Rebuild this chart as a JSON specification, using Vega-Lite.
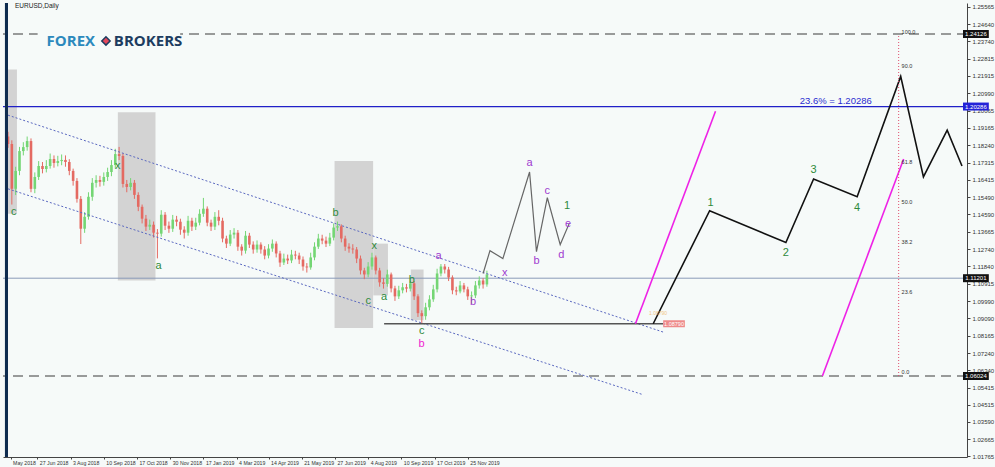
{
"$schema":"https://vega.github.io/schema/vega-lite/v6.json",
"autosize":{"type":"none"},
"padding":{"left":3,"top":3,"right":28,"bottom":10},
"width":964,"height":454,
"background":"#f6faf9",
"config":{"view":{"stroke":null},"text":{"font":"Liberation Sans"},
 "axisX":{"labelAlign":"left","labelBaseline":"top","labelOffset":2,"labelFlush":false,"labelOverlap":false,"labelBound":false,"labelFont":"Liberation Sans","labelFontSize":5.2,"labelColor":"#333","labelPadding":1,"tickSize":2,"tickColor":"#444","domainColor":"#444","domainWidth":1,"grid":false},
 "axisY":{"labelFlush":false,"labelOverlap":false,"labelBound":false,"labelFont":"Liberation Sans","labelFontSize":6,"labelColor":"#333","labelPadding":2,"tickSize":3,"tickColor":"#444","domainColor":"#444","domainWidth":1,"grid":false}
},
"resolve":{"scale":{"color":"independent"}},
"datasets":{
"candles":[
{"t":0,"o":1.1870,"h":1.1895,"l":1.1810,"c":1.1830},
{"t":3,"o":1.1830,"h":1.1850,"l":1.1510,"c":1.1593},
{"t":6,"o":1.1593,"h":1.1710,"l":1.1560,"c":1.1688},
{"t":9,"o":1.1688,"h":1.1815,"l":1.1665,"c":1.1793},
{"t":12,"o":1.1793,"h":1.1840,"l":1.1770,"c":1.1814},
{"t":15,"o":1.1814,"h":1.1870,"l":1.1795,"c":1.1846},
{"t":18,"o":1.1846,"h":1.1860,"l":1.1575,"c":1.1593},
{"t":21,"o":1.1593,"h":1.1680,"l":1.1570,"c":1.1656},
{"t":24,"o":1.1656,"h":1.1740,"l":1.1640,"c":1.1714},
{"t":27,"o":1.1714,"h":1.1735,"l":1.1675,"c":1.1698},
{"t":30,"o":1.1698,"h":1.1745,"l":1.1680,"c":1.1714},
{"t":33,"o":1.1714,"h":1.1780,"l":1.1700,"c":1.1751},
{"t":36,"o":1.1751,"h":1.1770,"l":1.1705,"c":1.1730},
{"t":39,"o":1.1730,"h":1.1768,"l":1.1712,"c":1.1740},
{"t":42,"o":1.1740,"h":1.1775,"l":1.1718,"c":1.1746},
{"t":45,"o":1.1746,"h":1.1770,"l":1.1710,"c":1.1735},
{"t":48,"o":1.1735,"h":1.1750,"l":1.1665,"c":1.1688},
{"t":51,"o":1.1688,"h":1.1700,"l":1.1610,"c":1.1635},
{"t":54,"o":1.1635,"h":1.1650,"l":1.1520,"c":1.1540},
{"t":57,"o":1.1540,"h":1.1555,"l":1.1301,"c":1.1382},
{"t":60,"o":1.1382,"h":1.1470,"l":1.1360,"c":1.1445},
{"t":63,"o":1.1445,"h":1.1575,"l":1.1430,"c":1.1551},
{"t":66,"o":1.1551,"h":1.1650,"l":1.1530,"c":1.1625},
{"t":69,"o":1.1625,"h":1.1665,"l":1.1600,"c":1.1640},
{"t":72,"o":1.1640,"h":1.1662,"l":1.1605,"c":1.1630},
{"t":75,"o":1.1630,"h":1.1680,"l":1.1610,"c":1.1656},
{"t":78,"o":1.1656,"h":1.1705,"l":1.1635,"c":1.1682},
{"t":81,"o":1.1682,"h":1.1745,"l":1.1660,"c":1.1719},
{"t":84,"o":1.1719,"h":1.1805,"l":1.1700,"c":1.1777},
{"t":87,"o":1.1777,"h":1.1815,"l":1.1745,"c":1.1767},
{"t":90,"o":1.1767,"h":1.1780,"l":1.1600,"c":1.1619},
{"t":93,"o":1.1619,"h":1.1640,"l":1.1575,"c":1.1603},
{"t":96,"o":1.1603,"h":1.1650,"l":1.1585,"c":1.1625},
{"t":99,"o":1.1625,"h":1.1640,"l":1.1540,"c":1.1561},
{"t":102,"o":1.1561,"h":1.1575,"l":1.1475,"c":1.1498},
{"t":105,"o":1.1498,"h":1.1510,"l":1.1410,"c":1.1435},
{"t":108,"o":1.1435,"h":1.1455,"l":1.1370,"c":1.1393},
{"t":111,"o":1.1393,"h":1.1430,"l":1.1375,"c":1.1403},
{"t":114,"o":1.1403,"h":1.1420,"l":1.1335,"c":1.1361},
{"t":117,"o":1.1361,"h":1.1380,"l":1.1225,"c":1.1356},
{"t":120,"o":1.1356,"h":1.1480,"l":1.1340,"c":1.1456},
{"t":123,"o":1.1456,"h":1.1470,"l":1.1375,"c":1.1398},
{"t":126,"o":1.1398,"h":1.1420,"l":1.1360,"c":1.1382},
{"t":129,"o":1.1382,"h":1.1455,"l":1.1365,"c":1.1430},
{"t":132,"o":1.1430,"h":1.1450,"l":1.1395,"c":1.1419},
{"t":135,"o":1.1419,"h":1.1435,"l":1.1350,"c":1.1377},
{"t":138,"o":1.1377,"h":1.1395,"l":1.1330,"c":1.1361},
{"t":141,"o":1.1361,"h":1.1450,"l":1.1345,"c":1.1424},
{"t":144,"o":1.1424,"h":1.1440,"l":1.1370,"c":1.1393},
{"t":147,"o":1.1393,"h":1.1440,"l":1.1375,"c":1.1414},
{"t":150,"o":1.1414,"h":1.1485,"l":1.1400,"c":1.1461},
{"t":153,"o":1.1461,"h":1.1545,"l":1.1445,"c":1.1488},
{"t":156,"o":1.1488,"h":1.1500,"l":1.1395,"c":1.1414},
{"t":159,"o":1.1414,"h":1.1430,"l":1.1370,"c":1.1393},
{"t":162,"o":1.1393,"h":1.1470,"l":1.1375,"c":1.1445},
{"t":165,"o":1.1445,"h":1.1480,"l":1.1400,"c":1.1424},
{"t":168,"o":1.1424,"h":1.1440,"l":1.1310,"c":1.1330},
{"t":171,"o":1.1330,"h":1.1345,"l":1.1280,"c":1.1303},
{"t":174,"o":1.1303,"h":1.1375,"l":1.1290,"c":1.1351},
{"t":177,"o":1.1351,"h":1.1385,"l":1.1330,"c":1.1361},
{"t":180,"o":1.1361,"h":1.1375,"l":1.1265,"c":1.1287},
{"t":183,"o":1.1287,"h":1.1300,"l":1.1240,"c":1.1266},
{"t":186,"o":1.1266,"h":1.1370,"l":1.1250,"c":1.1345},
{"t":189,"o":1.1345,"h":1.1360,"l":1.1280,"c":1.1298},
{"t":192,"o":1.1298,"h":1.1315,"l":1.1250,"c":1.1272},
{"t":195,"o":1.1272,"h":1.1320,"l":1.1255,"c":1.1298},
{"t":198,"o":1.1298,"h":1.1310,"l":1.1250,"c":1.1272},
{"t":201,"o":1.1272,"h":1.1290,"l":1.1220,"c":1.1240},
{"t":204,"o":1.1240,"h":1.1300,"l":1.1225,"c":1.1277},
{"t":207,"o":1.1277,"h":1.1325,"l":1.1260,"c":1.1303},
{"t":210,"o":1.1303,"h":1.1315,"l":1.1230,"c":1.1251},
{"t":213,"o":1.1251,"h":1.1265,"l":1.1180,"c":1.1203},
{"t":216,"o":1.1203,"h":1.1250,"l":1.1190,"c":1.1224},
{"t":219,"o":1.1224,"h":1.1245,"l":1.1195,"c":1.1214},
{"t":222,"o":1.1214,"h":1.1270,"l":1.1200,"c":1.1245},
{"t":225,"o":1.1245,"h":1.1265,"l":1.1220,"c":1.1240},
{"t":228,"o":1.1240,"h":1.1255,"l":1.1195,"c":1.1219},
{"t":231,"o":1.1219,"h":1.1235,"l":1.1160,"c":1.1182},
{"t":234,"o":1.1182,"h":1.1200,"l":1.1150,"c":1.1177},
{"t":237,"o":1.1177,"h":1.1255,"l":1.1165,"c":1.1230},
{"t":240,"o":1.1230,"h":1.1310,"l":1.1215,"c":1.1287},
{"t":243,"o":1.1287,"h":1.1355,"l":1.1275,"c":1.1330},
{"t":246,"o":1.1330,"h":1.1350,"l":1.1300,"c":1.1319},
{"t":249,"o":1.1319,"h":1.1340,"l":1.1285,"c":1.1303},
{"t":252,"o":1.1303,"h":1.1360,"l":1.1290,"c":1.1335},
{"t":255,"o":1.1335,"h":1.1410,"l":1.1320,"c":1.1388},
{"t":258,"o":1.1388,"h":1.1420,"l":1.1370,"c":1.1395},
{"t":261,"o":1.1395,"h":1.1405,"l":1.1310,"c":1.1330},
{"t":264,"o":1.1330,"h":1.1345,"l":1.1265,"c":1.1287},
{"t":267,"o":1.1287,"h":1.1305,"l":1.1255,"c":1.1277},
{"t":270,"o":1.1277,"h":1.1300,"l":1.1250,"c":1.1272},
{"t":273,"o":1.1272,"h":1.1285,"l":1.1200,"c":1.1224},
{"t":276,"o":1.1224,"h":1.1240,"l":1.1140,"c":1.1161},
{"t":279,"o":1.1161,"h":1.1175,"l":1.1115,"c":1.1140},
{"t":282,"o":1.1140,"h":1.1205,"l":1.1125,"c":1.1182},
{"t":285,"o":1.1182,"h":1.1255,"l":1.1165,"c":1.1230},
{"t":288,"o":1.1230,"h":1.1240,"l":1.1140,"c":1.1161},
{"t":291,"o":1.1161,"h":1.1175,"l":1.1075,"c":1.1098},
{"t":294,"o":1.1098,"h":1.1120,"l":1.1065,"c":1.1090},
{"t":297,"o":1.1090,"h":1.1165,"l":1.1075,"c":1.1140},
{"t":300,"o":1.1140,"h":1.1150,"l":1.1045,"c":1.1066},
{"t":303,"o":1.1066,"h":1.1080,"l":1.1000,"c":1.1024},
{"t":306,"o":1.1024,"h":1.1080,"l":1.1010,"c":1.1056},
{"t":309,"o":1.1056,"h":1.1095,"l":1.1040,"c":1.1072},
{"t":312,"o":1.1072,"h":1.1090,"l":1.1045,"c":1.1065},
{"t":315,"o":1.1065,"h":1.1120,"l":1.1050,"c":1.1093},
{"t":318,"o":1.1093,"h":1.1105,"l":1.1005,"c":1.1024},
{"t":321,"o":1.1024,"h":1.1035,"l":1.0915,"c":1.0935},
{"t":324,"o":1.0935,"h":1.0950,"l":1.0879,"c":1.0919},
{"t":327,"o":1.0919,"h":1.0990,"l":1.0900,"c":1.0966},
{"t":330,"o":1.0966,"h":1.1030,"l":1.0950,"c":1.1008},
{"t":333,"o":1.1008,"h":1.1085,"l":1.0995,"c":1.1061},
{"t":336,"o":1.1061,"h":1.1170,"l":1.1045,"c":1.1145},
{"t":339,"o":1.1145,"h":1.1195,"l":1.1130,"c":1.1182},
{"t":342,"o":1.1182,"h":1.1195,"l":1.1145,"c":1.1166},
{"t":345,"o":1.1166,"h":1.1180,"l":1.1105,"c":1.1124},
{"t":348,"o":1.1124,"h":1.1135,"l":1.1035,"c":1.1056},
{"t":351,"o":1.1056,"h":1.1075,"l":1.1030,"c":1.1050},
{"t":354,"o":1.1050,"h":1.1105,"l":1.1040,"c":1.1082},
{"t":357,"o":1.1082,"h":1.1095,"l":1.1045,"c":1.1061},
{"t":360,"o":1.1061,"h":1.1075,"l":1.1005,"c":1.1024},
{"t":363,"o":1.1024,"h":1.1050,"l":1.0985,"c":1.1029},
{"t":366,"o":1.1029,"h":1.1105,"l":1.1015,"c":1.1082},
{"t":369,"o":1.1082,"h":1.1130,"l":1.1065,"c":1.1108},
{"t":372,"o":1.1108,"h":1.1120,"l":1.1065,"c":1.1087},
{"t":375,"o":1.1087,"h":1.1160,"l":1.1075,"c":1.1140}
],
"boxes":[
{"t1":0,"t2":7,"p1":1.1461,"p2":1.2225},
{"t1":86,"t2":115.5,"p1":1.1108,"p2":1.1998},
{"t1":255.7,"t2":285.9,"p1":1.0856,"p2":1.1740},
{"t1":286,"t2":297.5,"p1":1.1029,"p2":1.1303},
{"t1":315.4,"t2":325.4,"p1":1.0898,"p2":1.1166}
],
"hlines":[
{"p":1.24126,"kind":"dash"},
{"p":1.06024,"kind":"dash"},
{"p":1.20286,"kind":"blue"},
{"p":1.11201,"kind":"thin"}
],
"channel":[
{"id":"u","k":0,"t":0,"p":1.1983},
{"id":"u","k":1,"t":513,"p":1.0835},
{"id":"l","k":0,"t":0,"p":1.1593},
{"id":"l","k":1,"t":497.5,"p":1.0503}
],
"seg":[{"t1":294.5,"t2":513,"p":1.0879}],
"proj":[
{"k":0,"t":372,"p":1.1145},
{"k":1,"t":377.4,"p":1.1266},
{"k":2,"t":387.5,"p":1.1224},
{"k":3,"t":408.4,"p":1.1682},
{"k":4,"t":413.8,"p":1.1261},
{"k":5,"t":422.3,"p":1.1546},
{"k":6,"t":432.4,"p":1.1298},
{"k":7,"t":439.4,"p":1.1409}
],
"magenta":[
{"id":"a","k":0,"t":491.3,"p":1.0879},
{"id":"a","k":1,"t":554,"p":1.2004},
{"id":"b","k":0,"t":637.7,"p":1.06024},
{"id":"b","k":1,"t":701.3,"p":1.1751}
],
"black":[
{"k":0,"t":505.2,"p":1.0879},
{"k":1,"t":549.4,"p":1.1477},
{"k":2,"t":609.1,"p":1.1309},
{"k":3,"t":630.8,"p":1.1645},
{"k":4,"t":664.9,"p":1.1551},
{"k":5,"t":699,"p":1.2188},
{"k":6,"t":716.8,"p":1.1656},
{"k":7,"t":735.4,"p":1.1904},
{"k":8,"t":747,"p":1.1714}
],
"fib":[{"t":697.4,"p1":1.06024,"p2":1.24126}],
"waves":[
{"t":4.6,"p":1.1472,"txt":"c","g":"g"},
{"t":86,"p":1.1714,"txt":"x","g":"g"},
{"t":117.8,"p":1.1187,"txt":"a","g":"g"},
{"t":256.5,"p":1.1467,"txt":"b","g":"g"},
{"t":286.7,"p":1.1293,"txt":"x","g":"g"},
{"t":282.1,"p":1.0998,"txt":"c","g":"g"},
{"t":294.5,"p":1.1019,"txt":"a","g":"g"},
{"t":316.2,"p":1.1108,"txt":"b","g":"g"},
{"t":323.9,"p":1.0840,"txt":"c","g":"g"},
{"t":437.8,"p":1.1500,"txt":"1","g":"g"},
{"t":550.2,"p":1.1519,"txt":"1","g":"g"},
{"t":609.1,"p":1.1256,"txt":"2","g":"g"},
{"t":630.8,"p":1.1693,"txt":"3","g":"g"},
{"t":664.9,"p":1.1493,"txt":"4","g":"g"},
{"t":337.1,"p":1.1235,"txt":"a","g":"p"},
{"t":364.2,"p":1.0993,"txt":"b","g":"p"},
{"t":389,"p":1.1150,"txt":"x","g":"p"},
{"t":408.4,"p":1.1730,"txt":"a","g":"p"},
{"t":413.8,"p":1.1209,"txt":"b","g":"p"},
{"t":422.3,"p":1.1582,"txt":"c","g":"p"},
{"t":433.2,"p":1.1245,"txt":"d","g":"p"},
{"t":438.6,"p":1.1405,"txt":"e","g":"p"},
{"t":323.9,"p":1.0771,"txt":"b","g":"m"}
],
"fibl":[
{"t":699.7,"p":1.24232,"txt":"100.0"},
{"t":699.7,"p":1.22432,"txt":"90.0"},
{"t":699.7,"p":1.17351,"txt":"61.8"},
{"t":699.7,"p":1.15234,"txt":"50.0"},
{"t":699.7,"p":1.13117,"txt":"38.2"},
{"t":699.7,"p":1.10470,"txt":"23.6"},
{"t":699.7,"p":1.06236,"txt":"0.0"}
],
"notes":[
{"t":619.9,"p":1.20286,"txt":"23.6% = 1.20286"}
],
"title":[{"t":5.5,"p":1.2561,"txt":"EURUSD,Daily"}],
"logo":[
{"t":30.2,"p":1.2378,"txt":"FOREX","g":"a"},
{"t":82.9,"p":1.2378,"txt":"BROKERS","g":"b"}
],
"icon":[{"t":76.7,"p":1.2376}],
"ptag":[{"t":521.5,"p":1.0879,"txt":"1.08790"}],
"ghost":[{"t":509,"p":1.0936,"txt":"1.08790"}],
"tags":[
{"p":1.24126,"txt":"1.24126","col":"k"},
{"p":1.20286,"txt":"1.20286","col":"b"},
{"p":1.11201,"txt":"1.11201","col":"k"},
{"p":1.06024,"txt":"1.06024","col":"k"}
]
},
"layer":[
{"data":{"name":"boxes"},
 "mark":{"type":"rect","fill":"#d3d3d3"},
 "encoding":{
  "x":{"field":"t1","type":"quantitative","scale":{"domain":[0,747],"nice":false,"zero":false},"title":null,
   "axis":{"orient":"bottom","values":[2,23,49,75,101,127,153,179,204,230,256,282,308,334,360],"tickCount":40,
    "labelExpr":"['May 2018','27 Jun 2018','3 Aug 2018','10 Sep 2018','17 Oct 2018','30 Nov 2018','17 Jan 2019','4 Mar 2019','14 Apr 2019','21 May 2019','27 Jun 2019','4 Aug 2019','10 Sep 2019','17 Oct 2019','25 Nov 2019'][indexof([2,23,49,75,101,127,153,179,204,230,256,282,308,334,360], datum.value)]",
    "labelAlign":"left","labelFlush":false,"labelOverlap":false,"labelFontSize":5.2}},
  "x2":{"field":"t2"},
  "y":{"field":"p1","type":"quantitative","scale":{"domain":[1.01737,1.25767],"nice":false,"zero":false},"title":null,
   "axis":{"orient":"right","tickCount":40,"values":[1.25565,1.2464,1.2374,1.22815,1.21915,1.2099,1.20065,1.19165,1.1824,1.17315,1.16415,1.1549,1.1459,1.13665,1.1274,1.1184,1.10915,1.0999,1.0909,1.08165,1.0724,1.0634,1.05415,1.04515,1.0359,1.02665,1.01765],
    "format":".5f","labelOverlap":false}},
  "y2":{"field":"p2"}}},
{"data":{"name":"hlines"},"transform":[{"filter":"datum.kind == 'dash'"}],
 "mark":{"type":"rule","stroke":"#3a3a3a","strokeWidth":1,"strokeDash":[10,6]},
 "encoding":{"y":{"field":"p","type":"quantitative","title":null}}},
{"data":{"name":"hlines"},"transform":[{"filter":"datum.kind == 'blue'"}],
 "mark":{"type":"rule","stroke":"#2020c8","strokeWidth":1.3},
 "encoding":{"y":{"field":"p","type":"quantitative","title":null}}},
{"data":{"name":"hlines"},"transform":[{"filter":"datum.kind == 'thin'"}],
 "mark":{"type":"rule","stroke":"#8a9ab8","strokeWidth":1},
 "encoding":{"y":{"field":"p","type":"quantitative","title":null}}},
{"data":{"name":"title"},
 "mark":{"type":"rect","fill":"#f6faf9"},
 "encoding":{"x":{"datum":23.2,"type":"quantitative","title":null},"x2":{"datum":134.8},
  "y":{"datum":1.23173,"type":"quantitative","title":null},"y2":{"datum":1.24549}}},
{"data":{"name":"candles"},
 "mark":{"type":"rule","strokeWidth":1},
 "encoding":{"x":{"field":"t","type":"quantitative","title":null},
  "y":{"field":"l","type":"quantitative","title":null},
  "y2":{"field":"h"},
  "color":{"condition":{"test":"datum.c >= datum.o","value":"#74d674"},"value":"#e46a62"}}},
{"data":{"name":"candles"},
 "mark":{"type":"bar","size":2.6},
 "encoding":{"x":{"field":"t","type":"quantitative","title":null},
  "y":{"field":"o","type":"quantitative","title":null},
  "y2":{"field":"c"},
  "color":{"condition":{"test":"datum.c >= datum.o","value":"#74d674"},"value":"#e46a62"}}},
{"data":{"name":"channel"},
 "mark":{"type":"line","stroke":"#5a68c0","strokeWidth":1,"strokeDash":[2,2]},
 "encoding":{"x":{"field":"t","type":"quantitative","title":null},
  "y":{"field":"p","type":"quantitative","title":null},
  "detail":{"field":"id"},"order":{"field":"k"}}},
{"data":{"name":"seg"},
 "mark":{"type":"rule","stroke":"#555","strokeWidth":1.6},
 "encoding":{"x":{"field":"t1","type":"quantitative","title":null},"x2":{"field":"t2"},
  "y":{"field":"p","type":"quantitative","title":null}}},
{"data":{"name":"proj"},
 "mark":{"type":"line","stroke":"#666","strokeWidth":1.2},
 "encoding":{"x":{"field":"t","type":"quantitative","title":null},
  "y":{"field":"p","type":"quantitative","title":null},
  "order":{"field":"k"}}},
{"data":{"name":"magenta"},
 "mark":{"type":"line","stroke":"#ee22e6","strokeWidth":1.6},
 "encoding":{"x":{"field":"t","type":"quantitative","title":null},
  "y":{"field":"p","type":"quantitative","title":null},
  "detail":{"field":"id"},"order":{"field":"k"}}},
{"data":{"name":"black"},
 "mark":{"type":"line","stroke":"#111","strokeWidth":1.6},
 "encoding":{"x":{"field":"t","type":"quantitative","title":null},
  "y":{"field":"p","type":"quantitative","title":null},
  "order":{"field":"k"}}},
{"data":{"name":"fib"},
 "mark":{"type":"rule","stroke":"#e05070","strokeWidth":1,"strokeDash":[1,2]},
 "encoding":{"x":{"field":"t","type":"quantitative","title":null},
  "y":{"field":"p1","type":"quantitative","title":null},"y2":{"field":"p2"}}},
{"data":{"name":"waves"},
 "mark":{"type":"text","fontSize":11,"align":"center","baseline":"middle"},
 "encoding":{"x":{"field":"t","type":"quantitative","title":null},
  "y":{"field":"p","type":"quantitative","title":null},
  "text":{"field":"txt"},
  "color":{"field":"g","type":"nominal","scale":{"domain":["g","p","m"],"range":["#2f8a3b","#a03ad0","#f01cd0"]},"legend":null}}},
{"data":{"name":"fibl"},
 "mark":{"type":"text","fontSize":5.5,"align":"left","baseline":"middle","color":"#333"},
 "encoding":{"x":{"field":"t","type":"quantitative","title":null},
  "y":{"field":"p","type":"quantitative","title":null},
  "text":{"field":"txt"}}},
{"data":{"name":"notes"},
 "mark":{"type":"text","fontSize":9.5,"align":"left","baseline":"bottom","dy":-1,"color":"#2a2ad0"},
 "encoding":{"x":{"field":"t","type":"quantitative","title":null},
  "y":{"field":"p","type":"quantitative","title":null},
  "text":{"field":"txt"}}},
{"data":{"name":"title"},
 "mark":{"type":"text","fontSize":6.5,"align":"left","baseline":"middle","color":"#222"},
 "encoding":{"x":{"field":"t","type":"quantitative","title":null},
  "y":{"field":"p","type":"quantitative","title":null},
  "text":{"field":"txt"}}},
{"data":{"name":"logo"},
 "mark":{"type":"text","font":"Open Sans","fontWeight":"bold","fontSize":15,"align":"left","baseline":"middle"},
 "encoding":{"x":{"field":"t","type":"quantitative","title":null},
  "y":{"field":"p","type":"quantitative","title":null},
  "text":{"field":"txt"},
  "color":{"field":"g","type":"nominal","scale":{"domain":["a","b"],"range":["#2c89bd","#1d3c60"]},"legend":null}}},
{"data":{"name":"icon"},
 "mark":{"type":"point","shape":"diamond","filled":true,"size":70,"fill":"#e5485c","stroke":"#1d3c60","strokeWidth":1.5,"opacity":1},
 "encoding":{"x":{"field":"t","type":"quantitative","title":null},
  "y":{"field":"p","type":"quantitative","title":null}}},
{"data":{"name":"ghost"},
 "mark":{"type":"text","fontSize":5,"align":"center","baseline":"middle","color":"#f0b050","opacity":0.7},
 "encoding":{"x":{"field":"t","type":"quantitative","title":null},
  "y":{"field":"p","type":"quantitative","title":null},
  "text":{"field":"txt"}}},
{"data":{"name":"ptag"},
 "mark":{"type":"rect","fill":"#ee8a8a","yOffset":-3.5,"y2Offset":3.5},
 "encoding":{"x":{"datum":513,"type":"quantitative","title":null},"x2":{"datum":530},
  "y":{"field":"p","type":"quantitative","title":null},"y2":{"field":"p"}}},
{"data":{"name":"ptag"},
 "mark":{"type":"text","fontSize":5.5,"align":"center","baseline":"middle","color":"#ffffff"},
 "encoding":{"x":{"field":"t","type":"quantitative","title":null},
  "y":{"field":"p","type":"quantitative","title":null},
  "text":{"field":"txt"}}},
{"data":{"name":"tags"},
 "mark":{"type":"rect","yOffset":-4,"y2Offset":4},
 "encoding":{"x":{"datum":747.8,"type":"quantitative","title":null},"x2":{"datum":768},
  "y":{"field":"p","type":"quantitative","title":null},"y2":{"field":"p"},
  "color":{"field":"col","type":"nominal","scale":{"domain":["k","b"],"range":["#111111","#2323d8"]},"legend":null}}},
{"data":{"name":"tags"},
 "mark":{"type":"text","fontSize":6,"align":"center","baseline":"middle","color":"#ffffff"},
 "encoding":{"x":{"datum":757.9,"type":"quantitative","title":null},
  "y":{"field":"p","type":"quantitative","title":null},
  "text":{"field":"txt"}}},
{"data":{"name":"title"},
 "mark":{"type":"rect","fill":"#0e2c4f"},
 "encoding":{"x":{"datum":-2.4,"type":"quantitative","title":null},"x2":{"datum":0},
  "y":{"datum":1.01737,"type":"quantitative","title":null},"y2":{"datum":1.25767}}}
]
}
